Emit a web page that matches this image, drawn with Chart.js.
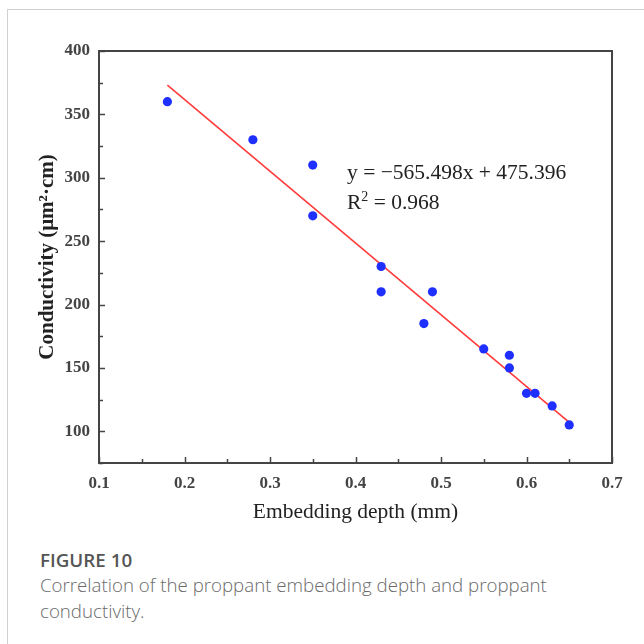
<!DOCTYPE html>
<html>
<head>
<meta charset="utf-8">
<script src="https://cdn.jsdelivr.net/npm/chart.js@4.4.1/dist/chart.umd.min.js"></script>
<style>
  html, body { margin:0; padding:0; background:#fff; }
  body { width:644px; height:644px; position:relative; overflow:hidden; }
  #frame { position:absolute; left:7px; top:9px; width:637px; height:635px; border-top:1px solid #d0d0d0; border-left:1px solid #d0d0d0; }
  #c { position:absolute; left:0; top:0; }
  .eq { position:absolute; left:347px; font-family:"Liberation Serif","Times New Roman",serif; font-size:21.5px; color:#222; white-space:nowrap; line-height:1; }
  .eq sup { font-size:14px; vertical-align:8px; line-height:0; }
  #caption { position:absolute; left:40px; top:548px; font-family:"Open Sans",sans-serif; color:#6a6a6a; }
  #caption .t { font-size:18.8px; font-weight:600; color:#555; line-height:24px; }
  #caption .d { font-size:18.7px; font-weight:300; line-height:26px; width:590px; }
</style>
</head>
<body>
<div id="frame"></div>
<canvas id="c" width="644" height="540"></canvas>
<div class="eq" style="top:162px;">y = −565.498x + 475.396</div>
<div class="eq" style="top:192px;">R<sup>2</sup> = 0.968</div>
<div id="caption">
  <div class="t">FIGURE 10</div>
  <div class="d">Correlation of the proppant embedding depth and proppant conductivity.</div>
</div>
<script>
// ---- data ----
const depth = [0.18, 0.28, 0.35, 0.35, 0.43, 0.43, 0.48, 0.49, 0.55, 0.58, 0.58, 0.60, 0.61, 0.63, 0.65];
const conductivity = [360, 330, 310, 270, 230, 210, 185, 210, 165, 160, 150, 130, 130, 120, 105];
const fitX = [0.18, 0.65];
const fitY = [373, 107];
const xTickLabels = ['0.1','0.2','0.3','0.4','0.5','0.6','0.7'];
const yTickLabels = ['100','150','200','250','300','350','400'];
const xTitle = 'Embedding depth (mm)';
const yTitle = 'Conductivity (μm²·cm)';

const serif = '"Liberation Serif","Times New Roman",serif';

const frameAndTicks = {
  id: 'frameAndTicks',
  afterDatasetsDraw(chart) {
    const {ctx, chartArea: a, scales} = chart;
    ctx.save();
    ctx.strokeStyle = '#444';
    ctx.lineWidth = 1.5;
    ctx.beginPath();
    scales.x.ticks.forEach(t => {
      const px = Math.round(scales.x.getPixelForValue(t.value)) + 0.5;
      const major = Math.round(t.value * 100) % 10 === 0;
      const len = major ? 6 : 4;
      ctx.moveTo(px, a.bottom); ctx.lineTo(px, a.bottom - len);
    });
    scales.y.ticks.forEach(t => {
      const py = Math.round(scales.y.getPixelForValue(t.value)) + 0.5;
      const major = t.value % 50 === 0;
      const len = major ? 6 : 4;
      ctx.moveTo(a.left, py); ctx.lineTo(a.left + len, py);
    });
    ctx.stroke();
    ctx.lineWidth = 2;
    ctx.strokeRect(a.left, a.top, a.right - a.left, a.bottom - a.top);
    ctx.restore();
  }
};

new Chart(document.getElementById('c'), {
  type: 'scatter',
  data: {
    datasets: [
      {
        type: 'line',
        data: fitX.map((x, i) => ({x, y: fitY[i]})),
        borderColor: '#ff3b3b',
        borderWidth: 1.6,
        pointRadius: 0,
        fill: false,
        order: 2
      },
      {
        data: depth.map((x, i) => ({x, y: conductivity[i]})),
        backgroundColor: '#1f2fff',
        borderColor: '#1f2fff',
        pointRadius: 4.6,
        pointBorderWidth: 0,
        order: 1
      }
    ]
  },
  options: {
    responsive: false,
    devicePixelRatio: 1,
    animation: false,
    layout: { padding: { left: 28, top: 51, right: 32, bottom: 0 } },
    plugins: { legend: { display: false }, tooltip: { enabled: false } },
    scales: {
      x: {
        type: 'linear', min: 0.1, max: 0.7,
        grid: { display: true, drawOnChartArea: false, drawTicks: false, color: 'rgba(0,0,0,0)' },
        border: { display: false },
        ticks: {
          stepSize: 0.05, padding: 10, color: '#444', maxRotation: 0, autoSkip: false,
          font: { family: serif, size: 17, weight: 'bold' },
          callback: (v) => { const k = Math.round(v * 100); return k % 10 === 0 ? xTickLabels[k / 10 - 1] : ''; }
        },
        title: { display: true, text: xTitle, color: '#222', font: { family: serif, size: 21.5 }, padding: { top: 4, bottom: 15 } },
        afterFit: (s) => { s.height = 77; }
      },
      y: {
        type: 'linear', min: 75, max: 400,
        grid: { display: true, drawOnChartArea: false, drawTicks: false, color: 'rgba(0,0,0,0)' },
        border: { display: false },
        ticks: {
          stepSize: 25, padding: 9, color: '#444', autoSkip: false,
          font: { family: serif, size: 17, weight: 'bold' },
          callback: (v) => (v % 50 === 0 && v >= 100) ? yTickLabels[(v - 100) / 50] : ''
        },
        title: { display: true, text: yTitle, color: '#222', font: { family: serif, size: 21, weight: 'bold' }, padding: { top: 7, bottom: 4 } },
        afterFit: (s) => { s.width = 71; }
      }
    }
  },
  plugins: [frameAndTicks]
});
</script>
</body>
</html>
